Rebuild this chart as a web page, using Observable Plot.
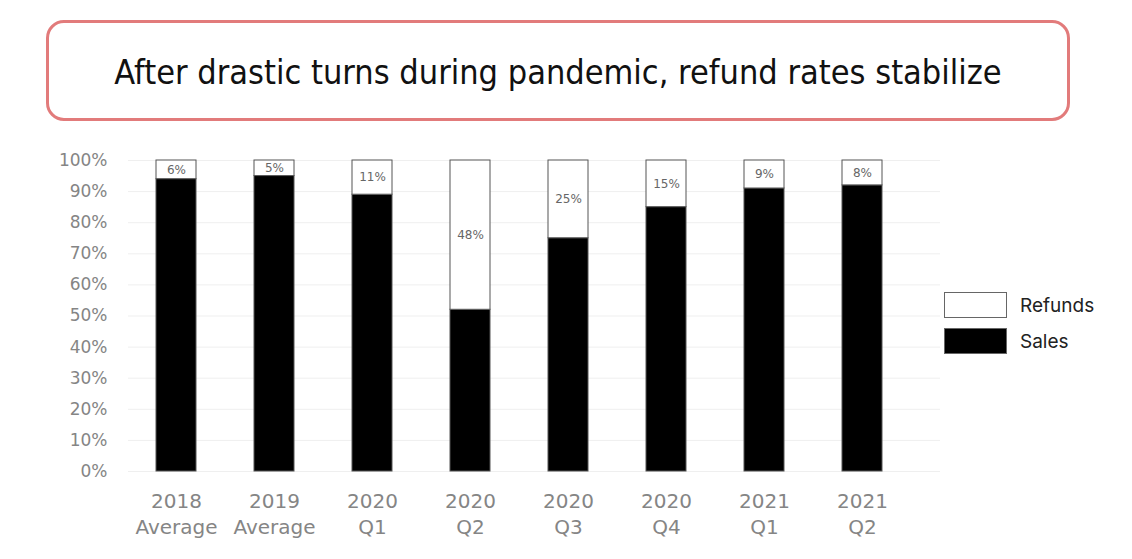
<!DOCTYPE html>
<html>
<head>
<meta charset="utf-8">
<script src="https://cdn.jsdelivr.net/npm/d3@7"></script>
<script src="https://cdn.jsdelivr.net/npm/@observablehq/plot@0.6"></script>
<style>
  html, body { margin: 0; padding: 0; background: #fff; }
  body { width: 1132px; height: 559px; position: relative; overflow: hidden; }
  #title {
    position: absolute; left: 46px; top: 20px; width: 1018px; height: 93px;
    border: 3px solid #e27b7b; border-radius: 18px; box-sizing: content-box;
    display: flex; align-items: center; justify-content: center;
    font-family: "Liberation Sans Narrow", "DejaVu Sans Condensed", "Roboto", sans-serif;
    font-size: 34px; color: #111; padding-top: 2px;
  }
  #chart { position: absolute; left: 0; top: 130px; }
  #legend { position: absolute; left: 944px; top: 287px; font-family: "Inter", "Roboto", sans-serif; font-size: 19px; color: #222; }
  .item { display: flex; align-items: center; height: 36px; }
  .sw { width: 61px; height: 24px; border: 1px solid #666; margin-right: 13px; }
</style>
</head>
<body>
<div id="title">After drastic turns during pandemic, refund rates stabilize</div>
<div id="chart"></div>
<div id="legend">
  <div class="item"><div class="sw" style="background:#fff"></div><span>Refunds</span></div>
  <div class="item"><div class="sw" style="background:#000"></div><span>Sales</span></div>
</div>
<script>
const categories = ["2018\nAverage", "2019\nAverage", "2020\nQ1", "2020\nQ2", "2020\nQ3", "2020\nQ4", "2021\nQ1", "2021\nQ2"];
const sales = [0.94, 0.95, 0.89, 0.52, 0.75, 0.85, 0.91, 0.92];
const refunds = [0.06, 0.05, 0.11, 0.48, 0.25, 0.15, 0.09, 0.08];
const yTicks = [0, 0.1, 0.2, 0.3, 0.4, 0.5, 0.6, 0.7, 0.8, 0.9, 1.0];

const rows = [];
categories.forEach((c, i) => {
  rows.push({cat: c, series: "Sales", value: sales[i]});
  rows.push({cat: c, series: "Refunds", value: refunds[i]});
});
const pct = d3.format(".0%");

const plot = Plot.plot({
  width: 1132,
  height: 429,
  marginLeft: 128,
  marginRight: 192,
  marginTop: 30,
  marginBottom: 88,
  style: {fontFamily: "DejaVu Sans", background: "transparent"},
  x: {type: "band", domain: categories, range: [126, 912], paddingInner: 0.59, paddingOuter: 0.295, label: null},
  y: {domain: [0, 1], label: null},
  marks: [
    Plot.ruleY(yTicks, {stroke: "#efefef", strokeWidth: 1}),
    Plot.barY(rows, {x: "cat", y: "value", fill: d => d.series === "Sales" ? "#000" : "#fff", stroke: "#555", strokeWidth: 1}),
    Plot.text(rows, Plot.stackY({x: "cat", y: "value", text: d => d.series === "Refunds" ? pct(d.value) : null, fill: "#666", fontSize: 12})),
    Plot.axisY({ticks: yTicks, tickFormat: pct, tickSize: 0, tickPadding: 21, fontSize: 17, fill: "#858585", label: null}),
    Plot.axisX({tickSize: 0, tickPadding: 18, fontSize: 20, fill: "#858585", lineHeight: 1.3, label: null})
  ]
});
document.getElementById("chart").appendChild(plot);
</script>
</body>
</html>
